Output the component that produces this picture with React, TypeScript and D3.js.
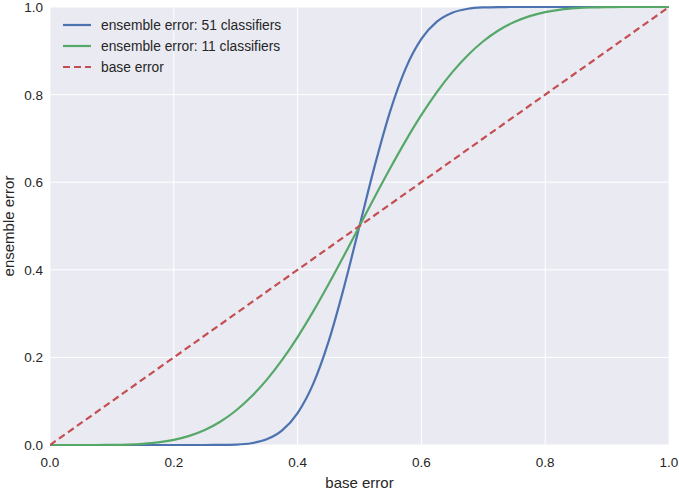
import React from "react";
import * as d3 from "d3";

const baseErrors = [0, 0.025, 0.05, 0.075, 0.1, 0.125, 0.15, 0.175, 0.2, 0.225, 0.25, 0.275, 0.3, 0.325, 0.35, 0.375, 0.4, 0.425, 0.45, 0.475, 0.5, 0.525, 0.55, 0.575, 0.6, 0.625, 0.65, 0.675, 0.7, 0.725, 0.75, 0.775, 0.8, 0.825, 0.85, 0.875, 0.9, 0.925, 0.95, 0.975, 1];

const ens11 = [0, 0, 0, 0, 0.0003, 0.001, 0.0027, 0.0059, 0.0117, 0.0208, 0.0343, 0.0532, 0.0782, 0.11, 0.1487, 0.1943, 0.2465, 0.3044, 0.3669, 0.4325, 0.5, 0.5675, 0.6331, 0.6956, 0.7535, 0.8057, 0.8513, 0.89, 0.9218, 0.9468, 0.9657, 0.9792, 0.9883, 0.9941, 0.9973, 0.999, 0.9997, 1, 1, 1, 1];

const ens51 = [0, 0, 0, 0, 0, 0, 0, 0, 0, 0, 0, 0.0002, 0.001, 0.004, 0.013, 0.0335, 0.073, 0.139, 0.236, 0.3605, 0.5, 0.6395, 0.764, 0.861, 0.927, 0.9665, 0.987, 0.996, 0.999, 0.9998, 1, 1, 1, 1, 1, 1, 1, 1, 1, 1, 1];

const baseLine = [0, 1];

const ticks = [0, 0.2, 0.4, 0.6, 0.8, 1.0];

const legendLabels = ["ensemble error: 51 classifiers", "ensemble error: 11 classifiers", "base error"];

const W = 679;
const H = 491;
const m = { left: 50, right: 10, top: 7, bottom: 46 };

export default function App() {
  const x = d3.scaleLinear().domain([0, 1]).range([m.left, W - m.right]);
  const y = d3.scaleLinear().domain([0, 1]).range([H - m.bottom, m.top]);
  const line = d3
    .line<[number, number]>()
    .x((d) => x(d[0]))
    .y((d) => y(d[1]))
    .curve(d3.curveMonotoneX);
  const p51 = line(baseErrors.map((b, i) => [b, ens51[i]]) as [number, number][]) || "";
  const p11 = line(baseErrors.map((b, i) => [b, ens11[i]]) as [number, number][]) || "";
  const pBase = d3.line<number>().x((d) => x(d)).y((d) => y(d))(baseLine) || "";
  const font = "'Liberation Sans', Arial, sans-serif";
  const colors = ["#4C72B0", "#55A868", "#C44E52"];

  return (
    <div style={{ position: "absolute", left: 0, top: 0 }}>
      <svg width={W} height={H} style={{ display: "block" }}>
        <rect x={0} y={0} width={W} height={H} fill="#ffffff" />
        <defs>
          <clipPath id="plotclip">
            <rect x={x(0)} y={y(1) - 2} width={x(1) - x(0)} height={y(0) - y(1) + 4} />
          </clipPath>
        </defs>
        <rect x={x(0)} y={y(1)} width={x(1) - x(0)} height={y(0) - y(1)} fill="#EAEAF2" />
        {ticks.map((t) => (
          <g key={"g" + t}>
            <line x1={x(t)} x2={x(t)} y1={y(0)} y2={y(1)} stroke="#ffffff" strokeWidth={1} />
            <line x1={x(0)} x2={x(1)} y1={y(t)} y2={y(t)} stroke="#ffffff" strokeWidth={1} />
          </g>
        ))}
        <g clipPath="url(#plotclip)">
          <path d={p51} fill="none" stroke={colors[0]} strokeWidth={2.2} />
          <path d={p11} fill="none" stroke={colors[1]} strokeWidth={2.2} />
          <path d={pBase} fill="none" stroke={colors[2]} strokeWidth={2.2} strokeDasharray="7,4" />
        </g>
        {ticks.map((t) => (
          <text key={"xt" + t} x={x(t)} y={y(0) + 22} textAnchor="middle" fontFamily={font} fontSize={13.5} fill="#262626">
            {t.toFixed(1)}
          </text>
        ))}
        {ticks.map((t) => (
          <text key={"yt" + t} x={x(0) - 7} y={y(t) + 5} textAnchor="end" fontFamily={font} fontSize={13.5} fill="#262626">
            {t.toFixed(1)}
          </text>
        ))}
        <text x={(x(0) + x(1)) / 2} y={H - 3} textAnchor="middle" fontFamily={font} fontSize={15} fill="#262626">
          base error
        </text>
        <text
          transform={`translate(14, ${(y(0) + y(1)) / 2}) rotate(-90)`}
          textAnchor="middle"
          fontFamily={font}
          fontSize={15}
          fill="#262626"
        >
          ensemble error
        </text>
        {legendLabels.map((l, i) => (
          <g key={l} transform={`translate(0, ${25 + i * 21})`}>
            <line
              x1={63}
              x2={91}
              y1={0}
              y2={0}
              stroke={colors[i]}
              strokeWidth={2.2}
              strokeDasharray={i === 2 ? "7,4" : undefined}
            />
            <text x={101} y={5} fontFamily={font} fontSize={13.8} fill="#262626">
              {l}
            </text>
          </g>
        ))}
      </svg>
    </div>
  );
}
